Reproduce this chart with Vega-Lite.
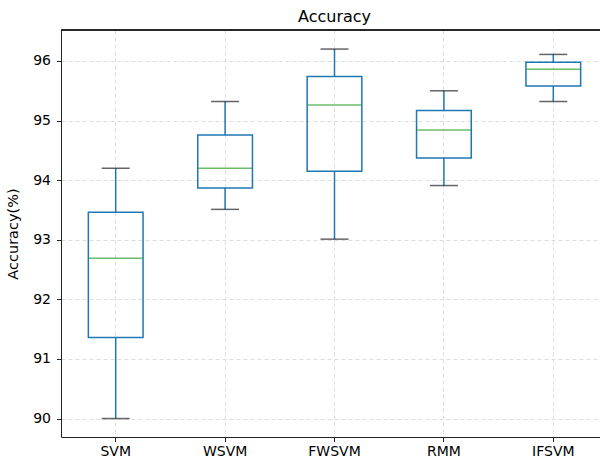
{
  "$schema": "https://vega.github.io/schema/vega-lite/v6.json",
  "autosize": "none",
  "padding": {"left": 61, "top": 30, "right": 0, "bottom": 24},
  "width": 539,
  "height": 407,
  "title": {"text": "Accuracy", "fontSize": 16, "font": "DejaVu Sans", "fontWeight": "normal", "color": "#000", "offset": 7, "baseline": "alphabetic", "dx": 4, "dy": 15},
  "data": {"values": [
    {"model": "SVM", "min": 90.0, "q1": 91.36, "median": 92.69, "q3": 93.46, "max": 94.2},
    {"model": "WSVM", "min": 93.51, "q1": 93.87, "median": 94.2, "q3": 94.76, "max": 95.32},
    {"model": "FWSVM", "min": 93.01, "q1": 94.15, "median": 95.26, "q3": 95.74, "max": 96.2},
    {"model": "RMM", "min": 93.91, "q1": 94.37, "median": 94.84, "q3": 95.17, "max": 95.5},
    {"model": "IFSVM", "min": 95.32, "q1": 95.58, "median": 95.86, "q3": 95.98, "max": 96.11}
  ]},
  "layer": [
    {
      "mark": {"type": "rule", "color": "#1f77b4", "strokeWidth": 1.5},
      "encoding": {
        "x": {"field": "model", "type": "nominal", "sort": null,
          "scale": {"type": "band", "range": [0, 547], "paddingInner": 0, "paddingOuter": 0},
          "axis": {"orient": "bottom", "title": null, "grid": true, "labelAngle": 0}},
        "y": {"field": "min", "type": "quantitative",
          "scale": {"domain": [89.69, 96.52], "nice": false, "zero": false},
          "axis": {"title": "Accuracy(%)", "values": [90, 91, 92, 93, 94, 95, 96], "grid": true, "format": "d"}},
        "y2": {"field": "q1"}
      }
    },
    {
      "mark": {"type": "rule", "color": "#1f77b4", "strokeWidth": 1.5},
      "encoding": {
        "x": {"field": "model", "type": "nominal", "sort": null},
        "y": {"field": "q3", "type": "quantitative"},
        "y2": {"field": "max"}
      }
    },
    {
      "mark": {"type": "bar", "fill": null, "stroke": "#1f77b4", "strokeWidth": 1.5, "width": {"band": 0.5}},
      "encoding": {
        "x": {"field": "model", "type": "nominal", "sort": null},
        "y": {"field": "q1", "type": "quantitative"},
        "y2": {"field": "q3"}
      }
    },
    {
      "mark": {"type": "tick", "color": "#222", "size": 28, "thickness": 1.5},
      "encoding": {
        "x": {"field": "model", "type": "nominal", "sort": null},
        "y": {"field": "min", "type": "quantitative"}
      }
    },
    {
      "mark": {"type": "tick", "color": "#222", "size": 28, "thickness": 1.5},
      "encoding": {
        "x": {"field": "model", "type": "nominal", "sort": null},
        "y": {"field": "max", "type": "quantitative"}
      }
    },
    {
      "mark": {"type": "tick", "color": "#2ca02c", "size": 54, "thickness": 1.5},
      "encoding": {
        "x": {"field": "model", "type": "nominal", "sort": null},
        "y": {"field": "median", "type": "quantitative"}
      }
    },
    {
      "mark": {"type": "rule", "color": "#222", "strokeWidth": 1},
      "encoding": {"y": {"datum": 96.52}}
    }
  ],
  "config": {
    "view": {"stroke": null},
    "font": "DejaVu Sans",
    "axis": {
      "domainColor": "#222", "domainWidth": 1,
      "tickColor": "#222", "tickSize": 4.5, "tickWidth": 1,
      "labelFont": "DejaVu Sans", "labelFontSize": 14, "labelColor": "#000", "labelPadding": 3,
      "titleFont": "DejaVu Sans", "titleFontSize": 14.5, "titleFontWeight": "normal", "titleColor": "#000",
      "gridColor": "#dddddd", "gridDash": [4, 3], "gridWidth": 1
    },
    "axisY": {"labelPadding": 6, "titlePadding": 12}
  }
}
